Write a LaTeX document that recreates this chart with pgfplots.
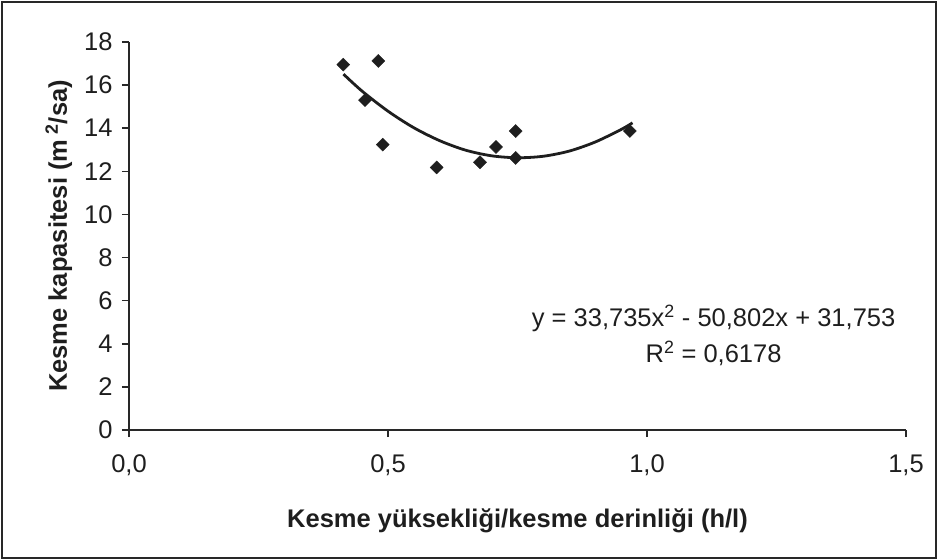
\documentclass[border=0pt]{standalone}
\usepackage{fontspec}
\setmainfont{Liberation Sans}
\usepackage{pgfplots}
\pgfplotsset{compat=1.18}
\definecolor{ink}{RGB}{30,30,30}
\definecolor{axc}{RGB}{40,40,40}
\newcommand{\fs}{\fontsize{25.5bp}{30bp}\selectfont}
\begin{document}
\begin{tikzpicture}
\path (-129bp,-130bp) rectangle (809bp,430bp);
\draw[axc, line width=2bp] (-126.5bp,-127.5bp) rectangle (806.5bp,427.5bp);
\begin{axis}[
  at={(0,0)}, anchor=south west,
  width=777bp, height=388bp, scale only axis,
  xmin=0, xmax=1.5, ymin=0, ymax=18,
  enlargelimits=false,
  axis lines=left,
  axis line style={-, axc, line width=1.6bp},
  tick style={axc, line width=1.6bp},
  tick align=outside, major tick length=7bp,
  xtick={0,0.5,1,1.5}, ytick={0,2,...,18},
  /pgf/number format/assume math mode=true,
  tick label style={font=\fs, text=ink},
  yticklabel style={xshift=-6bp},
  xticklabel style={yshift=-14bp, /pgf/number format/fixed, /pgf/number format/fixed zerofill, /pgf/number format/precision=1, /pgf/number format/use comma},
  xlabel={Kesme yüksekliği/kesme derinliği (h/l)},
  xlabel style={at={(axis description cs:0.5,0)}, anchor=center, yshift=-91bp, font=\fs\bfseries, text=ink},
  ylabel={Kesme kapasitesi (m\hspace{0.2em}\textsuperscript{2}/sa)},
  ylabel style={at={(axis description cs:-0.0905,0.5)}, anchor=center, font=\fs\bfseries, text=ink},
  clip=false,
]
\addplot[ink, line width=2.8bp, smooth] coordinates {
(0.414,16.51) (0.45,15.72) (0.50,14.79) (0.55,14.02) (0.60,13.42) (0.65,12.98)
(0.70,12.72) (0.75,12.63) (0.80,12.70) (0.85,12.94) (0.90,13.36) (0.95,13.94) (0.972,14.25)
};
\addplot[only marks, mark=square*, mark size=4.6bp, mark options={rotate=45, fill=ink, draw=ink}] coordinates {
(0.4137,16.95) (0.4813,17.12) (0.4556,15.30) (0.4898,13.24) (0.594,12.18)
(0.6776,12.42) (0.7085,13.13) (0.7465,13.87) (0.7465,12.62) (0.967,13.87)
};
\node[align=center, font=\fs, text=ink] at (axis cs:1.1286,4.4)
  {y = 33,735x\textsuperscript{2} - 50,802x + 31,753\\[6bp] R\textsuperscript{2} = 0,6178};
\end{axis}
\end{tikzpicture}
\end{document}
